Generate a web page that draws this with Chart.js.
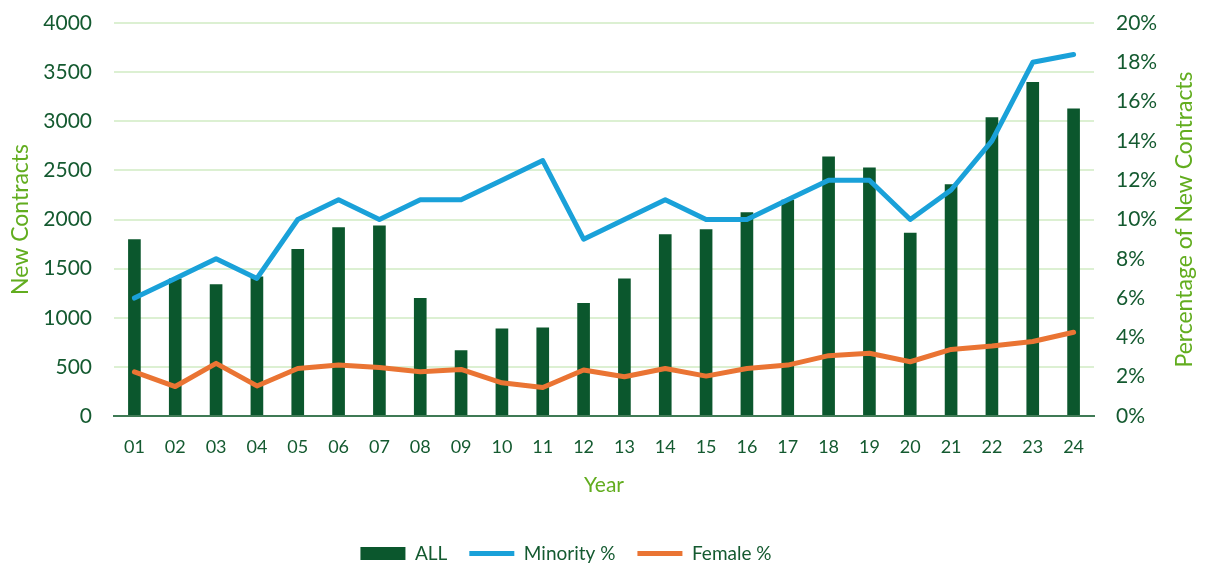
<!DOCTYPE html>
<html>
<head>
<meta charset="utf-8">
<script src="https://cdn.jsdelivr.net/npm/chart.js@4"></script>
<style>
  html, body { margin: 0; padding: 0; background: #ffffff; }
  #wrap { width: 1206px; height: 566px; }
</style>
</head>
<body>
<div id="wrap"><canvas id="grafico"></canvas></div>
<script>
// dados
const anos = ['01','02','03','04','05','06','07','08','09','10','11','12',
              '13','14','15','16','17','18','19','20','21','22','23','24'];
const contratosTotal = [1800, 1400, 1340, 1420, 1700, 1920, 1940, 1200, 670, 890, 900, 1150,
                        1400, 1850, 1900, 2075, 2200, 2640, 2530, 1865, 2360, 3040, 3400, 3130];
const minoriaPct = [6, 7, 8, 7, 10, 11, 10, 11, 11, 12, 13, 9,
                    10, 11, 10, 10, 11, 12, 12, 10, 11.5, 14, 18, 18.4];
const mulheresPct = [2.25, 1.5, 2.68, 1.53, 2.42, 2.59, 2.47, 2.25, 2.37, 1.69, 1.45, 2.34,
                     2.0, 2.42, 2.03, 2.42, 2.59, 3.07, 3.19, 2.76, 3.39, 3.56, 3.79, 4.26];
const ticksEsquerda = [0, 500, 1000, 1500, 2000, 2500, 3000, 3500, 4000];
const tituloDireita = 'Percentage of New Contracts';

// cores
const verdeEscuro = '#0b572d';
const verdeTitulo = '#62ad1f';
const azul = '#1aa1d9';
const laranja = '#ea7433';
const corTexto = '#145a30';

Chart.defaults.font.family = 'Lato, "Open Sans", sans-serif';
Chart.defaults.color = corTexto;

// título do eixo direito lido de baixo para cima (igual ao do Excel)
const tituloEixoDireito = {
    id: 'tituloEixoDireito',
    afterDraw(chart) {
        const area = chart.chartArea;
        const c = chart.ctx;
        c.save();
        c.translate(1185, (area.top + area.bottom) / 2);
        c.rotate(-Math.PI / 2);
        c.fillStyle = verdeTitulo;
        c.font = '23px Lato, "Open Sans", sans-serif';
        c.textAlign = 'center';
        c.textBaseline = 'middle';
        c.fillText(tituloDireita, 0, 0);
        c.restore();
    }
};

// posiciona a legenda (um pouco à esquerda e mais para baixo)
const moveLegenda = {
    id: 'moveLegenda',
    afterLayout(chart) {
        const leg = chart.legend;
        leg.left -= 35;
        leg.right -= 35;
        leg.top += 7;
        leg.bottom += 7;
    }
};

const ctx = document.getElementById('grafico').getContext('2d');
const grafico = new Chart(ctx, {
    type: 'bar',
    data: {
        labels: anos,
        datasets: [
            {
                label: 'ALL',
                data: contratosTotal,
                backgroundColor: verdeEscuro,
                borderWidth: 0,
                yAxisID: 'y',
                barPercentage: 0.31,
                categoryPercentage: 1.0,
                order: 3,
                pointStyle: 'rect'
            },
            {
                label: 'Minority %',
                type: 'line',
                data: minoriaPct,
                borderColor: azul,
                backgroundColor: azul,
                borderWidth: 5,
                pointRadius: 0,
                tension: 0,
                borderJoinStyle: 'round',
                borderCapStyle: 'round',
                yAxisID: 'y1',
                order: 1,
                pointStyle: 'line'
            },
            {
                label: 'Female %',
                type: 'line',
                data: mulheresPct,
                borderColor: laranja,
                backgroundColor: laranja,
                borderWidth: 5,
                pointRadius: 0,
                tension: 0,
                borderJoinStyle: 'round',
                borderCapStyle: 'round',
                yAxisID: 'y1',
                order: 2,
                pointStyle: 'line'
            }
        ]
    },
    options: {
        responsive: true,
        maintainAspectRatio: false,
        animation: false,
        layout: { padding: { left: 4, right: 8, top: 23, bottom: 0 } },
        plugins: {
            tooltip: { enabled: false },
            legend: {
                position: 'bottom',
                labels: {
                    usePointStyle: true,
                    pointStyleWidth: 45,
                    boxHeight: 13,
                    padding: 22,
                    color: corTexto,
                    font: { size: 19 },
                    sort: (a, b) => a.datasetIndex - b.datasetIndex
                }
            }
        },
        scales: {
            x: {
                afterFit: (escala) => { escala.height = 99; },
                grid: { display: false, drawTicks: false },
                border: { display: true, color: '#3f7a55', width: 2 },
                ticks: { padding: 20, font: { size: 18 }, color: corTexto },
                title: {
                    display: true,
                    text: 'Year',
                    color: verdeTitulo,
                    font: { size: 21 },
                    padding: { top: 6, bottom: 17 }
                }
            },
            y: {
                position: 'left',
                min: 0,
                max: 4000,
                afterBuildTicks: (escala) => {
                    escala.ticks = ticksEsquerda.map(v => ({ value: v }));
                },
                afterFit: (escala) => { escala.width = 110; },
                grid: {
                    color: '#dcf0d2',
                    lineWidth: 2,
                    drawTicks: true,
                    tickLength: 22,
                    tickColor: 'rgba(0,0,0,0)'
                },
                border: { display: false },
                ticks: {
                    padding: 0,
                    font: { size: 21 },
                    color: corTexto,
                    callback: (v) => String(v)
                },
                title: {
                    display: true,
                    text: 'New Contracts',
                    color: verdeTitulo,
                    font: { size: 23 },
                    padding: { top: 3, bottom: 8 }
                }
            },
            y1: {
                position: 'right',
                min: 0,
                max: 20,
                afterFit: (escala) => { escala.width = 104; },
                grid: { display: false, drawTicks: true, tickLength: 22 },
                border: { display: false },
                ticks: {
                    stepSize: 2,
                    padding: 0,
                    font: { size: 21 },
                    color: corTexto,
                    callback: (v) => v + '%'
                },
                title: { display: false }
            }
        }
    },
    plugins: [tituloEixoDireito, moveLegenda]
});
</script>
</body>
</html>
